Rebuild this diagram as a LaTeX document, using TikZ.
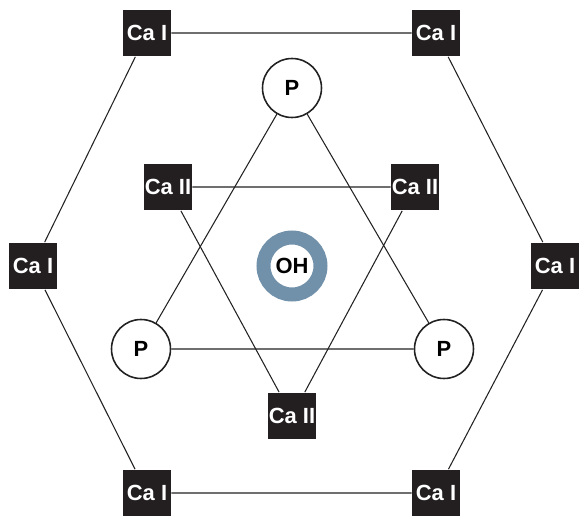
\documentclass[tikz,border=0pt]{standalone}
\usepackage{fontspec}
\setmainfont{Liberation Sans}
\begin{document}
\begin{tikzpicture}[x=0.02cm, y=-0.02cm,
    cabox/.style={fill=boxColour, text=white, minimum width=0.96cm, minimum height=0.94cm,
        inner sep=0pt, font=\fontsize{12.5}{13}\selectfont\bfseries},
    patom/.style={circle, draw=borderColour, fill=white, line width=0.9pt, minimum size=1.18cm,
        inner sep=0pt, font=\fontsize{12.5}{13}\selectfont\bfseries},
    bond/.style={draw=borderColour, line width=0.6pt}]
    \definecolor{borderColour}{HTML}{222222}
    \definecolor{boxColour}{HTML}{231F20}
    \definecolor{ringColour}{HTML}{7191AB}

    \useasboundingbox (0,0) rectangle (579,517);

    % Ca I hexagon
    \node[cabox] (caTL) at (147,33) {Ca I};
    \node[cabox] (caTR) at (436,33) {Ca I};
    \node[cabox] (caL) at (33,266) {Ca I};
    \node[cabox] (caR) at (555,266) {Ca I};
    \node[cabox] (caBL) at (147,493) {Ca I};
    \node[cabox] (caBR) at (436,493) {Ca I};

    % P triangle
    \node[patom] (pT) at (292,88) {P};
    \node[patom] (pL) at (141,349) {P};
    \node[patom] (pR) at (444,349) {P};

    % Ca II triangle
    \node[cabox] (caiiL) at (168,187) {Ca II};
    \node[cabox] (caiiR) at (415,187) {Ca II};
    \node[cabox] (caiiB) at (292,416) {Ca II};

    % OH in the middle
    \node[circle, draw=ringColour, line width=0.28cm, minimum size=1.14cm, inner sep=0pt,
        font=\fontsize{12.5}{13}\selectfont\bfseries] (oh) at (292,266) {OH};

    % Draw bonds
    \draw[bond] (caTL) -- (caTR) -- (caR) -- (caBR) -- (caBL) -- (caL) -- (caTL);
    \draw[bond] (pT) -- (pL) -- (pR) -- (pT);
    \draw[bond] (caiiL) -- (caiiR) -- (caiiB) -- (caiiL);

\end{tikzpicture}
\end{document}
